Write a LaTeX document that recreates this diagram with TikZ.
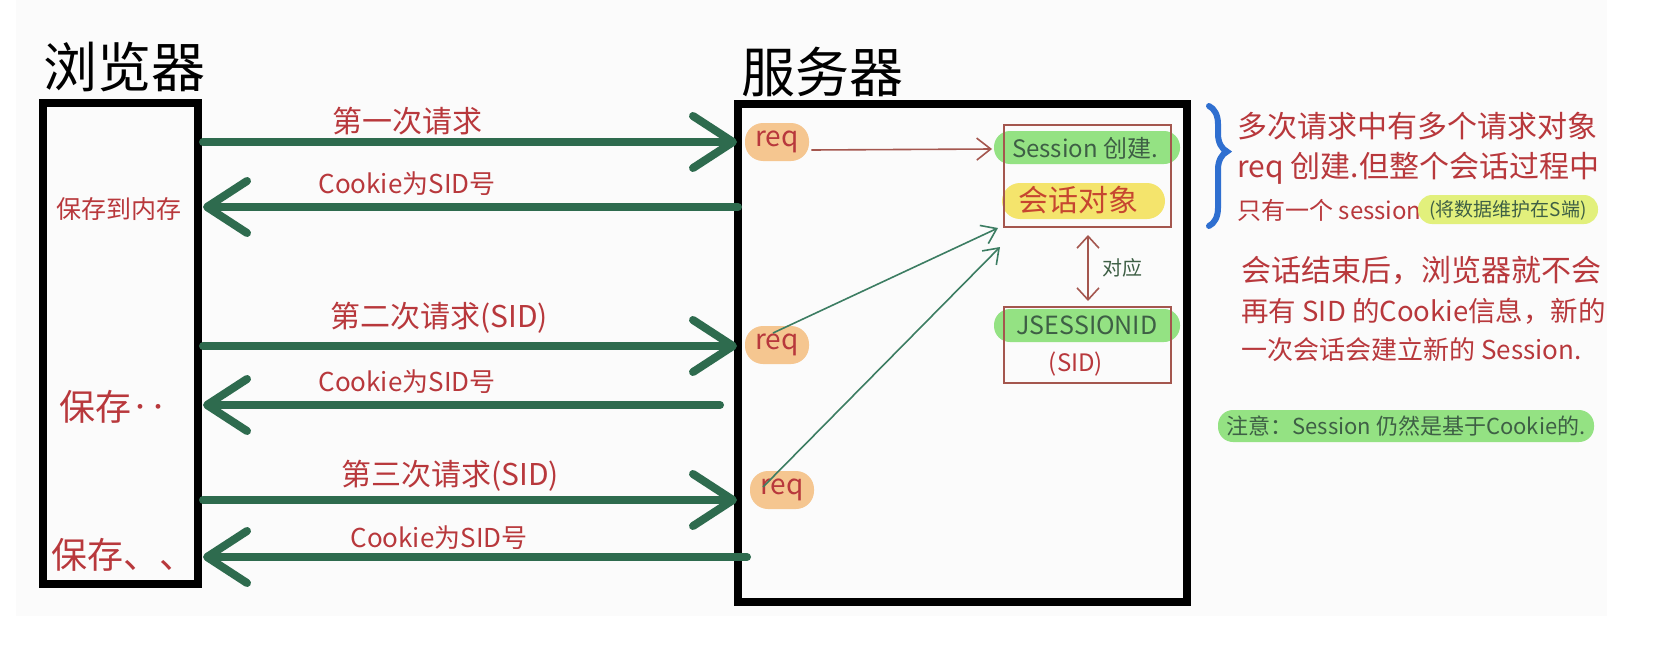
\documentclass[tikz,border=0pt]{standalone}
\usepackage{fontspec}
\setmainfont{Noto Sans CJK SC}
\usetikzlibrary{arrows.meta,decorations.pathreplacing}
\definecolor{arrowgreen}{HTML}{2E6B4E}
\definecolor{thingreen}{HTML}{3C7D62}
\definecolor{inkred}{HTML}{B8383C}
\definecolor{boxred}{HTML}{A4564E}
\definecolor{reqorange}{HTML}{F5C690}
\definecolor{hlgreen}{HTML}{94E283}
\definecolor{hlyellow}{HTML}{F4E46C}
\definecolor{hllime}{HTML}{E2F07C}
\definecolor{braceblue}{HTML}{2F6FD0}
\definecolor{darkgreentext}{HTML}{3E5F45}
\definecolor{bggray}{HTML}{FBFBFB}
\tikzset{
  big/.style={line width=4pt, draw=arrowgreen, line cap=round,
    -{Straight Barb[length=20pt,width=26pt,round]}},
  lbl/.style={text=inkred, font=\fontsize{15}{17}\selectfont},
  cklbl/.style={text=inkred, font=\fontsize{13}{15}\selectfont},
  save/.style={text=inkred, font=\fontsize{18}{20}\selectfont},
  title/.style={text=black, font=\fontsize{27}{30}\selectfont},
  pane/.style={draw=black, line width=3.8pt, rectangle, inner sep=0pt},
  reqpill/.style={fill=reqorange, rounded corners=9pt, minimum width=32pt, minimum height=19pt,
    text=inkred, font=\fontsize{14}{16}\selectfont, inner sep=0pt},
  thin/.style={draw=thingreen, line width=0.8pt, -{Straight Barb[length=7pt,width=10pt]}},
  redthin/.style={draw=boxred, line width=0.8pt},
  sbox/.style={draw=boxred, line width=1pt, rectangle, inner sep=0pt},
  note/.style={text=inkred, font=\fontsize{15}{17}\selectfont, anchor=west, inner sep=0pt},
}
\begin{document}
\begin{tikzpicture}[x=0.5pt,y=-0.5pt]
\useasboundingbox (0,0) rectangle (1680,664);
\fill[bggray] (16,0) rectangle (1607,616);

% titles
\node[title] (tb) at (124,67) {浏览器};
\node[title] (ts) at (822,72) {服务器};

% panes
\node[pane, minimum width=77.5pt, minimum height=240.5pt] (browser) at (120.5,343.5) {};
\node[pane, minimum width=224.5pt, minimum height=249pt] (server) at (962.5,353) {};

% left labels
\node[text=inkred, font=\fontsize{12.5}{14}\selectfont] (s1) at (119,209) {保存到内存};
\node[save] (s2) at (113,407) {保存‥};
\node[save] (s3) at (123,555) {保存、、};

% arrow endpoints
\coordinate (a1s) at (203,142); \coordinate (a1e) at (737,142);
\coordinate (a2s) at (738,207); \coordinate (a2e) at (203,207);
\coordinate (a3s) at (203,346); \coordinate (a3e) at (737,346);
\coordinate (a4s) at (720,405); \coordinate (a4e) at (203,405);
\coordinate (a5s) at (203,500); \coordinate (a5e) at (737,500);
\coordinate (a6s) at (747,557); \coordinate (a6e) at (203,557);

\draw[big] (a1s) -- (a1e);
\draw[big] (a2s) -- (a2e);
\draw[big] (a3s) -- (a3e);
\draw[big] (a4s) -- (a4e);
\draw[big] (a5s) -- (a5e);
\draw[big] (a6s) -- (a6e);

\node[lbl] (l1) at (407,121) {第一次请求};
\node[cklbl] (l2) at (407,184) {Cookie为SID号};
\node[lbl] (l3) at (439,318) {第二次请求(SID)};
\node[cklbl] (l4) at (407,382) {Cookie为SID号};
\node[lbl] (l5) at (450,476) {第三次请求(SID)};
\node[cklbl] (l6) at (439,538) {Cookie为SID号};

% req pills
\node[reqpill] (r1) at (777,142) {req};
\node[reqpill] (r2) at (777,345) {req};
\node[reqpill] (r3) at (782,490) {req};

% session box highlights
\fill[hlgreen, rounded corners=8pt] (994,131) rectangle (1180,164);
\fill[hlyellow, rounded corners=9pt] (1002,183) rectangle (1165,219);
\fill[hlgreen, rounded corners=8pt] (994,309) rectangle (1180,342);

\node[sbox, minimum width=83.5pt, minimum height=51pt] (sess) at (1087.5,176) {};
\node[sbox, minimum width=83.5pt, minimum height=38pt] (jsid) at (1087.5,345) {};

\node[text=darkgreentext, font=\fontsize{12}{14}\selectfont] (t1) at (1085,148) {Session 创建.};
\node[text=inkred!80!orange, font=\fontsize{15}{17}\selectfont] (t2) at (1078,200) {会话对象};
\node[text=darkgreentext, font=\fontsize{12.5}{14}\selectfont] (t3) at (1087,325) {JSESSIONID};
\node[text=inkred, font=\fontsize{12}{14}\selectfont] (t4) at (1076,364) {(SID)};

% correspondence
\coordinate (c1) at (1088,235); \coordinate (c2) at (1088,301);
\draw[redthin, {Straight Barb[length=6pt,width=11pt]}-{Straight Barb[length=6pt,width=11pt]}] (c1) -- (c2);
\node[text=darkgreentext, font=\fontsize{10}{12}\selectfont] (dy) at (1122,268) {对应};

% req -> session arrows
\coordinate (sa) at (992,149);
\draw[redthin, -{Straight Barb[length=7pt,width=11pt]}] (r1.east) ++(2,8) -- (sa);
\coordinate (sb) at (998,228);
\coordinate (sc) at (1000,247);
\draw[thin] (773,333) -- (sb);
\draw[thin] (763,487) -- (sc);

% brace
\draw[braceblue, line width=3pt, line cap=round,
  decorate, decoration={brace, amplitude=9pt, aspect=0.38}] (1209,106) -- (1209,226);

% notes
\node[note] (n1) at (1237,126) {多次请求中有多个请求对象};
\node[note] (n2) at (1237,168) {req 创建.但整个会话过程中};
\node[note, font=\fontsize{12}{14}\selectfont] (n3) at (1237,210) {只有一个 session};
\fill[hllime, rounded corners=7pt] (1418,195) rectangle (1598,224);
\node[text=darkgreentext, font=\fontsize{9.5}{11}\selectfont] (n3b) at (1508,210) {(将数据维护在S端)};

\node[note] (n4) at (1241,270) {会话结束后，浏览器就不会};
\node[note, font=\fontsize{13.75}{16}\selectfont] (n5) at (1241,311) {再有 SID 的Cookie信息，新的};
\node[note, font=\fontsize{13}{15}\selectfont] (n6) at (1241,350) {一次会话会建立新的 Session.};

\fill[hlgreen, rounded corners=7.5pt] (1218,410) rectangle (1594,442);
\node[text=darkgreentext, font=\fontsize{11}{13}\selectfont] (n7) at (1406,426) {注意：Session 仍然是基于Cookie的.};
\end{tikzpicture}
\end{document}
